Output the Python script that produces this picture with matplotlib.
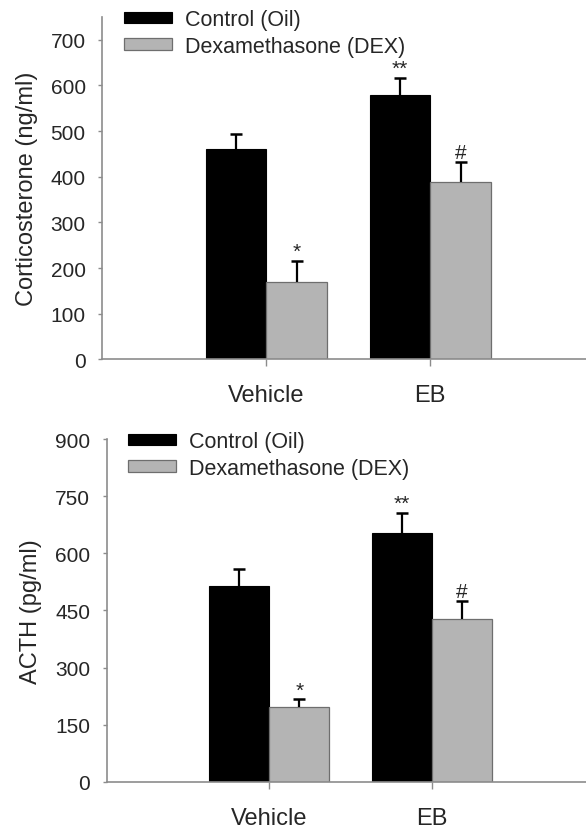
import matplotlib
matplotlib.use("Agg")
import matplotlib.pyplot as plt
import numpy as np

plt.rcParams["font.family"] = ["Liberation Sans", "DejaVu Sans"]

groups = ["Vehicle", "EB"]
series = ["Control (Oil)", "Dexamethasone (DEX)"]

cort_oil = [460, 580]
cort_oil_err = [33, 37]
cort_dex = [170, 388]
cort_dex_err = [45, 45]
cort_marks_oil = ["", "**"]
cort_marks_dex = ["*", "#"]

acth_oil = [513, 653]
acth_oil_err = [46, 53]
acth_dex = [196, 428]
acth_dex_err = [20, 48]
acth_marks_oil = ["", "**"]
acth_marks_dex = ["*", "#"]

colors = ["black", "#b4b4b4"]
spine_col = "#8c8c8c"
text_col = "#262626"
width = 0.37

fig = plt.figure(figsize=(5.86, 8.29), dpi=100)
ax1 = fig.add_axes([0.1746, 0.5654, 0.8254, 0.4129])
ax2 = fig.add_axes([0.1821, 0.0559, 0.8179, 0.4131])


def upper_err(ax, xs, ys, errs, z):
    ys = np.asarray(ys)
    errs = np.asarray(errs)
    ax.errorbar(xs, ys, yerr=[np.zeros(len(ys)), errs], fmt="none",
                ecolor="black", elinewidth=1.6, capsize=0, zorder=z)
    ax.plot(xs, ys + errs, ls="none", marker="_", ms=9, mew=1.8,
            color="black", zorder=z)


def panel(ax, oil, oil_err, dex, dex_err, m_oil, m_dex, ylim, yticks, ylabel,
          off, leg_xy):
    x = np.arange(len(groups))
    ax.bar(x - width / 2, oil, width, color=colors[0], edgecolor="black",
           linewidth=0.8, label=series[0], zorder=2)
    ax.bar(x + width / 2, dex, width, color=colors[1], edgecolor="#6e6e6e",
           linewidth=0.9, label=series[1], zorder=2)
    upper_err(ax, x - width / 2, oil, oil_err, 3)
    upper_err(ax, x + width / 2, dex, dex_err, 3)
    for i in range(len(groups)):
        if m_oil[i]:
            ax.text(x[i] - width / 2, oil[i] + oil_err[i] + off, m_oil[i],
                    ha="center", va="bottom", fontsize=15, color=text_col)
        if m_dex[i]:
            ax.text(x[i] + width / 2, dex[i] + dex_err[i] + off, m_dex[i],
                    ha="center", va="bottom", fontsize=15, color=text_col)
    ax.set_xlim(-1, 1.95)
    ax.set_ylim(*ylim)
    ax.set_yticks(yticks)
    ax.set_xticks(x)
    ax.set_xticklabels(groups, fontsize=17, color=text_col)
    ax.tick_params(axis="y", labelsize=15, labelcolor=text_col, color=spine_col,
                   length=3, width=1, pad=9)
    ax.tick_params(axis="x", color=spine_col, length=5, width=1, pad=13)
    ax.set_ylabel(ylabel, fontsize=17, color=text_col, labelpad=9)
    for s in ["top", "right"]:
        ax.spines[s].set_visible(False)
    for s in ["left", "bottom"]:
        ax.spines[s].set_color(spine_col)
        ax.spines[s].set_linewidth(1.2)
    ax.legend(loc="upper left", bbox_to_anchor=leg_xy, bbox_transform=fig.transFigure,
              frameon=False, fontsize=15.5, handlelength=2.25, handleheight=0.45,
              handletextpad=0.6, labelspacing=0.26, borderpad=0, borderaxespad=0,
              labelcolor=text_col)


panel(ax1, cort_oil, cort_oil_err, cort_dex, cort_dex_err, cort_marks_oil,
      cort_marks_dex, (0, 750), np.arange(0, 701, 100), "Corticosterone (ng/ml)",
      0, (124 / 586, 1 - 10 / 829))
panel(ax2, acth_oil, acth_oil_err, acth_dex, acth_dex_err, acth_marks_oil,
      acth_marks_dex, (0, 900), np.arange(0, 901, 150), "ACTH (pg/ml)",
      0, (128 / 586, 1 - 432 / 829))

fig.savefig("out.png", dpi=100)
